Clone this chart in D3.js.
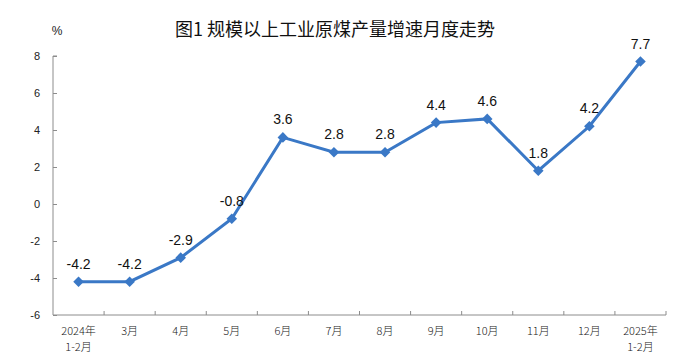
<html>
<head>
<meta charset="utf-8">
<script src="https://d3js.org/d3.v7.min.js"></script>
<style>
  body { margin: 0; background: #fff; }
</style>
</head>
<body>
<svg id="chart" width="691" height="361"></svg>
<script>
// data
var months = ["2024年\n1-2月", "3月", "4月", "5月", "6月", "7月", "8月", "9月", "10月", "11月", "12月", "2025年\n1-2月"];
var growth = [-4.2, -4.2, -2.9, -0.8, 3.6, 2.8, 2.8, 4.4, 4.6, 1.8, 4.2, 7.7];
var yTicks = [-6, -4, -2, 0, 2, 4, 6, 8];

var svg = d3.select("#chart");
var pLeft = 53, pRight = 666, pTop = 56, pBottom = 315;

var x = d3.scaleBand().domain(months).range([pLeft, pRight]);
var y = d3.scaleLinear().domain([-6, 8]).range([pBottom, pTop]);

// title
svg.append("text")
  .attr("x", 335).attr("y", 36)
  .attr("text-anchor", "middle")
  .style("font-family", "'Noto Sans CJK SC', sans-serif")
  .style("font-size", "18px")
  .style("font-weight", "400")
  .attr("fill", "#111")
  .text("图1  规模以上工业原煤产量增速月度走势");

svg.append("text")
  .attr("x", 57).attr("y", 35)
  .attr("text-anchor", "middle")
  .style("font-family", "'Liberation Sans', Arial, sans-serif")
  .style("font-size", "12px")
  .attr("fill", "#222")
  .text("%");

// y axis, ticks pointing inside
var yAxis = svg.append("g")
  .attr("transform", "translate(" + pLeft + ",0)")
  .call(d3.axisRight(y).tickValues(yTicks).tickSize(4).tickFormat(""));
yAxis.select(".domain").attr("d", "M4," + pTop + "H0V" + pBottom);
yAxis.selectAll("line, path").attr("stroke", "#8c8c8c");

svg.append("g").selectAll("text")
  .data(yTicks)
  .enter().append("text")
  .attr("x", 40).attr("y", function(d) { return y(d) + 4; })
  .attr("text-anchor", "end")
  .style("font-family", "'Liberation Sans', Arial, sans-serif")
  .style("font-size", "11px")
  .attr("fill", "#222")
  .text(function(d) { return d; });

// x axis, boundary ticks pointing up
var xb = svg.append("g");
xb.append("line")
  .attr("x1", pLeft).attr("x2", pRight)
  .attr("y1", pBottom).attr("y2", pBottom)
  .attr("stroke", "#8c8c8c");
xb.selectAll(".tk")
  .data(d3.range(1, months.length + 1))
  .enter().append("line")
  .attr("x1", function(i) { return pLeft + i * x.step(); })
  .attr("x2", function(i) { return pLeft + i * x.step(); })
  .attr("y1", pBottom).attr("y2", pBottom - 4)
  .attr("stroke", "#8c8c8c");

var xl = svg.append("g").selectAll("text")
  .data(months)
  .enter().append("text")
  .attr("text-anchor", "middle")
  .style("font-family", "'Noto Sans CJK SC', serif")
  .style("font-size", "11px")
  .style("font-weight", "300")
  .attr("fill", "#222")
  .attr("transform", function(d) { return "translate(" + (x(d) + x.bandwidth() / 2) + "," + (pBottom + 20) + ")"; });
xl.each(function(d) {
  var parts = d.split("\n");
  var t = d3.select(this);
  parts.forEach(function(p, i) {
    t.append("tspan").attr("x", 0).attr("dy", i ? 16 : 0).text(p);
  });
});

// line
var cx = function(d, i) { return x(months[i]) + x.bandwidth() / 2; };
var line = d3.line().x(cx).y(function(d) { return y(d); });

svg.append("path")
  .datum(growth)
  .attr("d", line)
  .attr("fill", "none")
  .attr("stroke", "#3a78c6")
  .attr("stroke-width", 3);

// diamond markers: squares turned 45 degrees
svg.append("g").selectAll("path")
  .data(growth)
  .enter().append("path")
  .attr("d", d3.symbol().type(d3.symbolSquare).size(56))
  .attr("transform", function(d, i) { return "translate(" + cx(d, i) + "," + y(d) + ") rotate(45)"; })
  .attr("fill", "#3a78c6");

svg.append("g").selectAll("text")
  .data(growth)
  .enter().append("text")
  .attr("x", cx)
  .attr("y", function(d) { return y(d) - 13; })
  .attr("text-anchor", "middle")
  .style("font-family", "'Liberation Sans', Arial, sans-serif")
  .style("font-size", "14px")
  .attr("fill", "#111")
  .text(function(d) { return d.toFixed(1); });
</script>
</body>
</html>
